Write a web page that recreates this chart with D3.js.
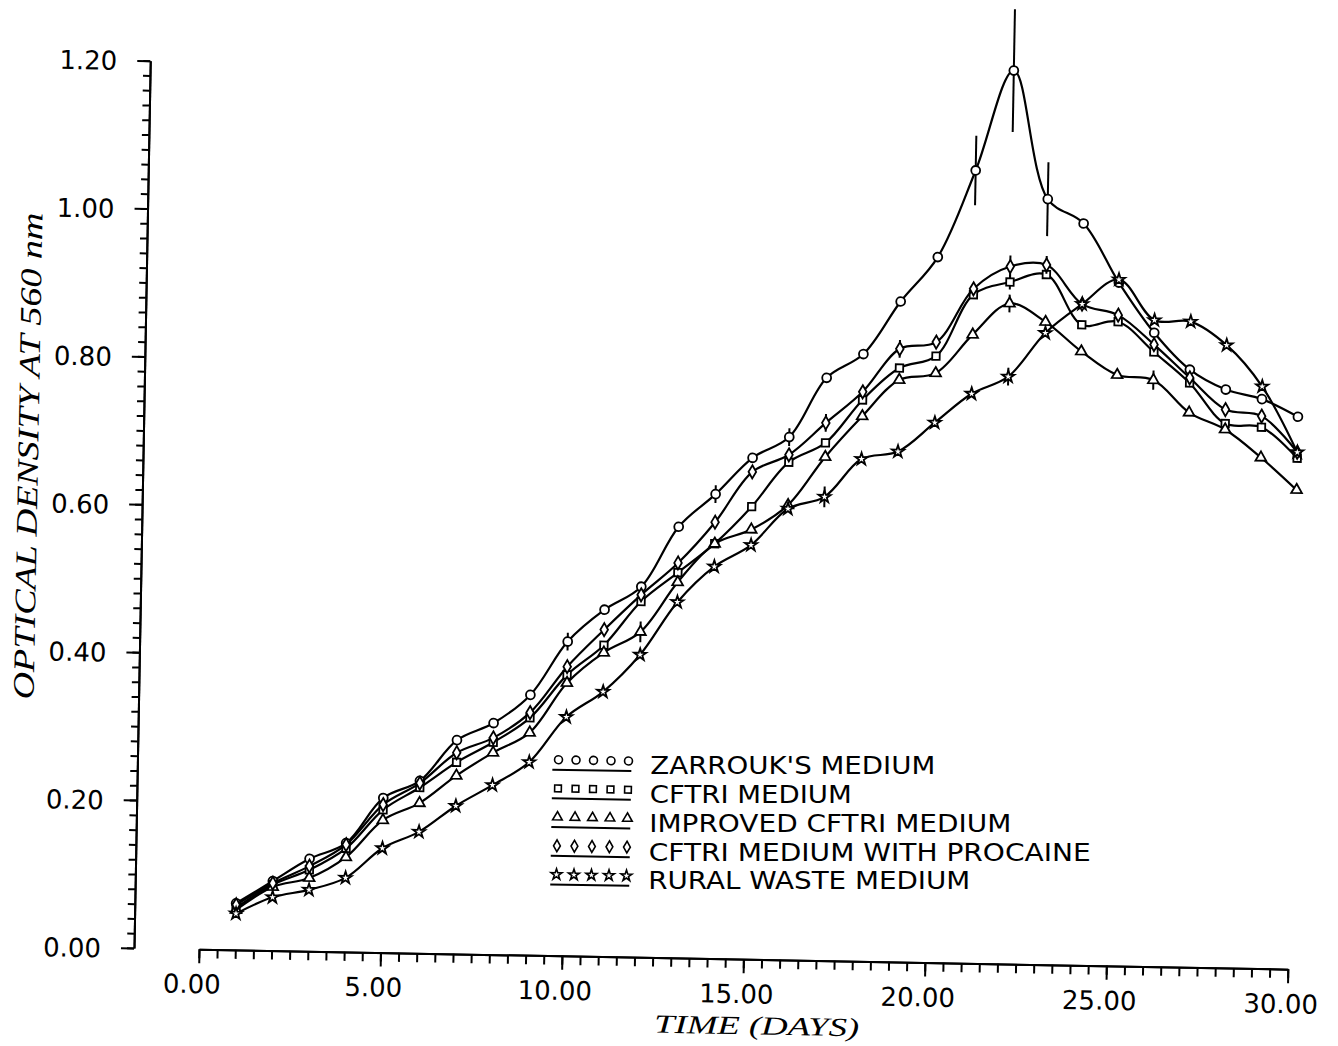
<!DOCTYPE html>
<html>
<head>
<meta charset="utf-8">
<script src="https://cdn.jsdelivr.net/npm/d3@7/dist/d3.min.js"></script>
<style>
  body { margin: 0; background: #fff; }
</style>
</head>
<body>
<div id="chart"></div>
<script>
// Growth curves of Spirulina in five media (optical density vs time)

// Data
var days = [1, 2, 3, 4, 5, 6, 7, 8, 9, 10, 11, 12, 13, 14, 15,
            16, 17, 18, 19, 20, 21, 22, 23, 24, 25, 26, 27, 28, 29, 30];

var zarrouk  = [0.063, 0.094, 0.125, 0.147, 0.209, 0.233, 0.289, 0.313, 0.352, 0.425,
                0.469, 0.501, 0.583, 0.628, 0.678, 0.707, 0.788, 0.821, 0.893, 0.954,
                1.072, 1.208, 1.035, 1.003, 0.924, 0.857, 0.808, 0.782, 0.770, 0.747];
var cftri    = [0.057, 0.089, 0.110, 0.140, 0.193, 0.224, 0.259, 0.287, 0.321, 0.380,
                0.421, 0.481, 0.521, 0.561, 0.612, 0.673, 0.700, 0.759, 0.803, 0.820,
                0.904, 0.922, 0.933, 0.866, 0.871, 0.831, 0.790, 0.736, 0.732, 0.691];
var improved = [0.054, 0.086, 0.099, 0.128, 0.179, 0.203, 0.241, 0.273, 0.301, 0.369,
                0.411, 0.440, 0.508, 0.561, 0.581, 0.615, 0.681, 0.737, 0.787, 0.797,
                0.850, 0.893, 0.869, 0.830, 0.799, 0.793, 0.750, 0.728, 0.691, 0.648];
var procaine = [0.061, 0.091, 0.115, 0.145, 0.200, 0.230, 0.272, 0.293, 0.328, 0.391,
                0.442, 0.490, 0.534, 0.590, 0.659, 0.683, 0.727, 0.770, 0.829, 0.839,
                0.912, 0.943, 0.946, 0.894, 0.880, 0.841, 0.797, 0.755, 0.747, 0.699];
var rural    = [0.049, 0.072, 0.083, 0.100, 0.141, 0.164, 0.200, 0.229, 0.261, 0.323,
                0.358, 0.409, 0.481, 0.530, 0.560, 0.610, 0.627, 0.679, 0.690, 0.730,
                0.770, 0.794, 0.854, 0.894, 0.928, 0.874, 0.873, 0.842, 0.787, 0.699];

// error bars (half length), 0 = none drawn
var zarroukErr  = [0, 0, 0, 0, 0, 0, 0, 0, 0, 0.012, 0, 0, 0, 0.012, 0,
                   0.012, 0, 0, 0, 0, 0.047, 0.083, 0.05, 0, 0, 0, 0, 0, 0, 0];
var cftriErr    = [0, 0, 0, 0, 0, 0, 0, 0, 0, 0, 0, 0, 0, 0, 0,
                   0, 0, 0, 0, 0, 0, 0.01, 0, 0, 0, 0, 0, 0, 0, 0];
var improvedErr = [0, 0, 0, 0, 0, 0, 0, 0, 0, 0, 0, 0.014, 0, 0, 0,
                   0, 0, 0, 0, 0, 0, 0.012, 0, 0, 0, 0.013, 0, 0, 0, 0];
var procaineErr = [0, 0, 0, 0, 0, 0, 0, 0, 0, 0, 0, 0, 0, 0, 0,
                   0, 0.012, 0, 0.012, 0, 0, 0.015, 0.012, 0, 0, 0, 0, 0, 0, 0];
var ruralErr    = [0, 0, 0, 0, 0, 0, 0, 0, 0, 0, 0, 0, 0, 0, 0,
                   0, 0.014, 0, 0, 0, 0, 0.012, 0, 0, 0, 0, 0, 0, 0, 0];

var seriesNames = ["ZARROUK'S MEDIUM", "CFTRI MEDIUM", "IMPROVED CFTRI MEDIUM",
                   "CFTRI MEDIUM WITH PROCAINE", "RURAL WASTE MEDIUM"];

var xTicks = [0, 5, 10, 15, 20, 25, 30];
var yTicks = [0, 0.2, 0.4, 0.6, 0.8, 1.0, 1.2];

// Svg container
var svgWidth = 1338;
var svgHeight = 1046;

var svg = d3.select("#chart").append("svg")
    .attr("width", svgWidth)
    .attr("height", svgHeight);

// the scan is tilted about a degree clockwise, pivot on the y axis foot
var tilt = 1.05;
var origin = {x: 134, y: 948};
var chartGroup = svg.append("g")
    .attr("transform", `rotate(${tilt}, ${origin.x}, ${origin.y})`);

// same tilt for a single point (legend labels stay level so rows don't collide)
function tilted(x, y) {
    var a = tilt * Math.PI / 180;
    var dx = x - origin.x, dy = y - origin.y;
    return [origin.x + dx * Math.cos(a) - dy * Math.sin(a),
            origin.y + dx * Math.sin(a) + dy * Math.cos(a)];
}

var xScale = d3.scaleLinear().domain([0, 30]).range([199, 1288]);
var yScale = d3.scaleLinear().domain([0, 1.2]).range([origin.y, 60.5]);

var tickFont = "'DejaVu Sans', sans-serif";

// x axis: minor ticks every half day, majors every 5 days
var xMinor = chartGroup.append("g")
    .attr("transform", `translate(0, ${origin.y})`)
    .call(d3.axisBottom(xScale).tickValues(d3.range(0, 30.01, 0.5)).tickSize(9).tickSizeOuter(0).tickFormat(""));

var xMajor = chartGroup.append("g")
    .attr("transform", `translate(0, ${origin.y})`)
    .call(d3.axisBottom(xScale).tickValues(xTicks).tickSize(14).tickSizeOuter(0).tickFormat(d3.format(".2f")));

xMajor.selectAll("text")
    .attr("y", 44)
    .attr("dy", null)
    .attr("dx", -7);

// y axis: minor ticks every 0.02
var yMinor = chartGroup.append("g")
    .attr("transform", `translate(${origin.x}, 0)`)
    .call(d3.axisLeft(yScale).tickValues(d3.range(0, 1.2001, 0.02)).tickSize(7).tickSizeOuter(0).tickFormat(""));

var yMajor = chartGroup.append("g")
    .attr("transform", `translate(${origin.x}, 0)`)
    .call(d3.axisLeft(yScale).tickValues(yTicks).tickSize(13).tickSizeOuter(0).tickFormat(d3.format(".2f")));

yMajor.selectAll("text")
    .attr("x", -33)
    .attr("dy", "0.36em");

chartGroup.selectAll(".domain, .tick line")
    .attr("stroke", "#000")
    .attr("stroke-width", 2);

chartGroup.selectAll(".tick text")
    .attr("fill", "#000")
    .attr("font-family", tickFont)
    .attr("font-size", 26);

// axis titles
chartGroup.append("text")
    .attr("x", 758)
    .attr("y", 1023)
    .attr("text-anchor", "middle")
    .attr("font-family", "'Liberation Serif', serif")
    .attr("font-style", "italic")
    .attr("font-size", 26)
    .attr("textLength", 205)
    .attr("lengthAdjust", "spacingAndGlyphs")
    .text("TIME (DAYS)");

chartGroup.append("text")
    .attr("transform", "translate(29, 458) rotate(-90)")
    .attr("text-anchor", "middle")
    .attr("font-family", "'Liberation Serif', serif")
    .attr("font-style", "italic")
    .attr("font-size", 30)
    .attr("textLength", 487)
    .attr("lengthAdjust", "spacingAndGlyphs")
    .text("OPTICAL DENSITY AT 560 nm");

// Series table built from the arrays above
var series = [
    {name: seriesNames[0], values: zarrouk,  err: zarroukErr,  symbol: d3.symbolCircle,   size: 62},
    {name: seriesNames[1], values: cftri,    err: cftriErr,    symbol: d3.symbolSquare,   size: 56},
    {name: seriesNames[2], values: improved, err: improvedErr, symbol: d3.symbolTriangle, size: 50},
    {name: seriesNames[3], values: procaine, err: procaineErr, symbol: d3.symbolDiamond,  size: 50},
    {name: seriesNames[4], values: rural,    err: ruralErr,    symbol: d3.symbolStar,     size: 46}
];

var line = d3.line()
    .x((d, i) => xScale(days[i]))
    .y(d => yScale(d))
    .curve(d3.curveCatmullRom.alpha(0.5));

series.forEach(function(s) {
    var grp = chartGroup.append("g");

    grp.append("path")
        .datum(s.values)
        .attr("d", line)
        .attr("fill", "none")
        .attr("stroke", "#000")
        .attr("stroke-width", 2.2);

    // error bars
    grp.selectAll("line.err")
        .data(s.values.map((v, i) => ({x: days[i], v: v, e: s.err[i]})).filter(d => d.e > 0))
        .enter()
        .append("line")
        .attr("class", "err")
        .attr("x1", d => xScale(d.x))
        .attr("x2", d => xScale(d.x))
        .attr("y1", d => yScale(d.v - d.e))
        .attr("y2", d => yScale(d.v + d.e))
        .attr("stroke", "#000")
        .attr("stroke-width", 2);

    grp.selectAll("path.mark")
        .data(s.values)
        .enter()
        .append("path")
        .attr("class", "mark")
        .attr("d", d3.symbol().type(s.symbol).size(s.size))
        .attr("transform", (d, i) => `translate(${xScale(days[i])}, ${yScale(d)})`)
        .attr("fill", "#fff")
        .attr("stroke", "#000")
        .attr("stroke-width", 1.8);
});

// Legend: five small markers over a rule, then the label
var legendTop = 752;
var rowGap = 28.7;
var legendWidths = [285, 202, 362, 442, 322];

series.forEach(function(s, i) {
    var rowY = legendTop + i * rowGap;
    var row = chartGroup.append("g")
        .attr("transform", `translate(0, ${rowY})`);

    row.selectAll("path")
        .data([0, 1, 2, 3, 4])
        .enter()
        .append("path")
        .attr("d", d3.symbol().type(s.symbol).size(s.size * 0.8))
        .attr("transform", k => `translate(${555 + k * 17.5}, 0)`)
        .attr("fill", "#fff")
        .attr("stroke", "#000")
        .attr("stroke-width", 1.6);

    row.append("line")
        .attr("x1", 549)
        .attr("x2", 628)
        .attr("y1", 10)
        .attr("y2", 10)
        .attr("stroke", "#000")
        .attr("stroke-width", 2);

    var p = tilted(647, rowY + 10);
    svg.append("text")
        .attr("x", p[0])
        .attr("y", p[1] + 3)
        .attr("font-family", tickFont)
        .attr("font-size", 24)
        .attr("textLength", legendWidths[i])
        .attr("lengthAdjust", "spacingAndGlyphs")
        .text(s.name);
});
</script>
</body>
</html>
